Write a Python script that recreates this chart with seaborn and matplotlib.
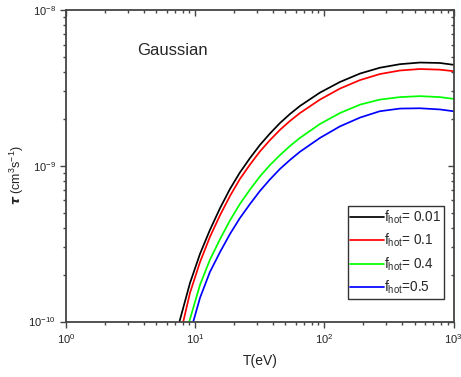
import matplotlib
matplotlib.use("Agg")
import matplotlib.pyplot as plt
import seaborn as sns
import numpy as np
import pandas as pd

# ---- data ----
labels = [r"f$_{\rm hot}$= 0.01", r"f$_{\rm hot}$= 0.1", r"f$_{\rm hot}$= 0.4", r"f$_{\rm hot}$=0.5"]
colors = ["#000000", "#ff0000", "#00ff00", "#0000ff"]

# common temperature grid (eV)
T_grid = [10.9, 13.0, 15.6, 18.6, 22.2, 26.6, 31.7, 37.9, 45.3, 54.2, 64.7, 92.5,
          132, 189, 269, 385, 550, 785, 1000]

T_black = [7.56, 9.12] + T_grid
tau_black = [1.0e-10, 1.77e-10, 2.72e-10, 3.87e-10, 5.36e-10, 7.10e-10, 9.06e-10, 1.122e-9,
             1.36e-9, 1.61e-9, 1.88e-9, 2.15e-9, 2.42e-9, 2.95e-9, 3.45e-9, 3.91e-9,
             4.26e-9, 4.49e-9, 4.60e-9, 4.57e-9, 4.45e-9]

T_red = [8.09, 9.12] + T_grid
tau_red = [1.0e-10, 1.53e-10, 2.41e-10, 3.49e-10, 4.83e-10, 6.40e-10, 8.23e-10, 1.02e-9,
           1.235e-9, 1.46e-9, 1.70e-9, 1.94e-9, 2.18e-9, 2.66e-9, 3.13e-9, 3.55e-9,
           3.88e-9, 4.09e-9, 4.18e-9, 4.14e-9, 4.05e-9]

T_green = [9.00] + T_grid
tau_green = [1.0e-10, 1.72e-10, 2.49e-10, 3.39e-10, 4.46e-10, 5.69e-10, 7.05e-10, 8.54e-10,
             1.01e-9, 1.17e-9, 1.34e-9, 1.51e-9, 1.855e-9, 2.18e-9, 2.47e-9, 2.66e-9,
             2.76e-9, 2.80e-9, 2.76e-9, 2.69e-9]

T_blue = [9.67] + T_grid
tau_blue = [1.0e-10, 1.42e-10, 2.08e-10, 2.80e-10, 3.65e-10, 4.62e-10, 5.69e-10, 6.89e-10,
            8.17e-10, 9.54e-10, 1.09e-9, 1.23e-9, 1.51e-9, 1.79e-9, 2.04e-9, 2.24e-9,
            2.33e-9, 2.34e-9, 2.30e-9, 2.24e-9]

series_T = [T_black, T_red, T_green, T_blue]
series_tau = [tau_black, tau_red, tau_green, tau_blue]

frames = []
for lab, T, tau in zip(labels, series_T, series_tau):
    frames.append(pd.DataFrame({"T": T, "tau": tau, "series": lab}))
df = pd.concat(frames, ignore_index=True)

# ---- style ----
sns.set_style("ticks")
plt.rcParams["font.family"] = ["Liberation Sans", "DejaVu Sans"]
plt.rcParams["mathtext.fontset"] = "custom"
plt.rcParams["mathtext.rm"] = "Liberation Sans"
plt.rcParams["mathtext.it"] = "Liberation Sans:italic"
plt.rcParams["mathtext.bf"] = "Liberation Sans:bold"

fig = plt.figure(figsize=(4.61, 3.77), dpi=100)
ax = fig.add_axes([66/461, 1-321.6/377, (453.5-66)/461, (321.6-10)/377])

sns.lineplot(data=df, x="T", y="tau", hue="series", palette=dict(zip(labels, colors)),
             hue_order=labels, sort=False, estimator=None, linewidth=1.25, ax=ax, legend=False)

ax.set_xscale("log")
ax.set_yscale("log")
ax.set_xlim(1, 1000)
ax.set_ylim(1e-10, 1e-8)

spine_c = "#444444"
for s in ax.spines.values():
    s.set_visible(True)
    s.set_linewidth(1.3)
    s.set_color(spine_c)

ax.tick_params(which="both", direction="out", colors=spine_c, labelcolor="#222222", labelsize=8, width=1.0)
ax.tick_params(which="major", length=4)
ax.tick_params(which="minor", length=2.5)

secx = ax.secondary_xaxis("top")
secx.tick_params(which="both", direction="in", colors=spine_c, labeltop=False, width=1.0)
secx.tick_params(which="major", length=4)
secx.tick_params(which="minor", length=2.5)
secx.spines["top"].set_visible(False)
secy = ax.secondary_yaxis("right")
secy.tick_params(which="both", direction="in", colors=spine_c, labelright=False, width=1.0)
secy.tick_params(which="major", length=4)
secy.tick_params(which="minor", length=2.5)
secy.spines["right"].set_visible(False)

ax.set_xlabel("T(eV)", fontsize=10, color="#222222", labelpad=6)
ax.set_ylabel(r"$\boldsymbol{\tau}$ (cm$^{3}$s$^{-1}$)", fontsize=9, color="#222222")
ax.yaxis.set_label_coords(-0.102, 0.47)

ax.text(0.183, 0.871, "Gaussian", transform=ax.transAxes, fontsize=12, va="center", ha="left")

handles = [plt.Line2D([], [], color=c, linewidth=1.25) for c in colors]
leg = ax.legend(handles, labels, loc="upper left", bbox_to_anchor=(0.727, 0.372), borderaxespad=0,
                fontsize=9.8, frameon=True, fancybox=False, edgecolor="black", handlelength=2.5,
                handletextpad=0.0, labelspacing=0.45, borderpad=0.2)
leg.get_frame().set_linewidth(1.0)

fig.savefig("out.png", dpi=100)
